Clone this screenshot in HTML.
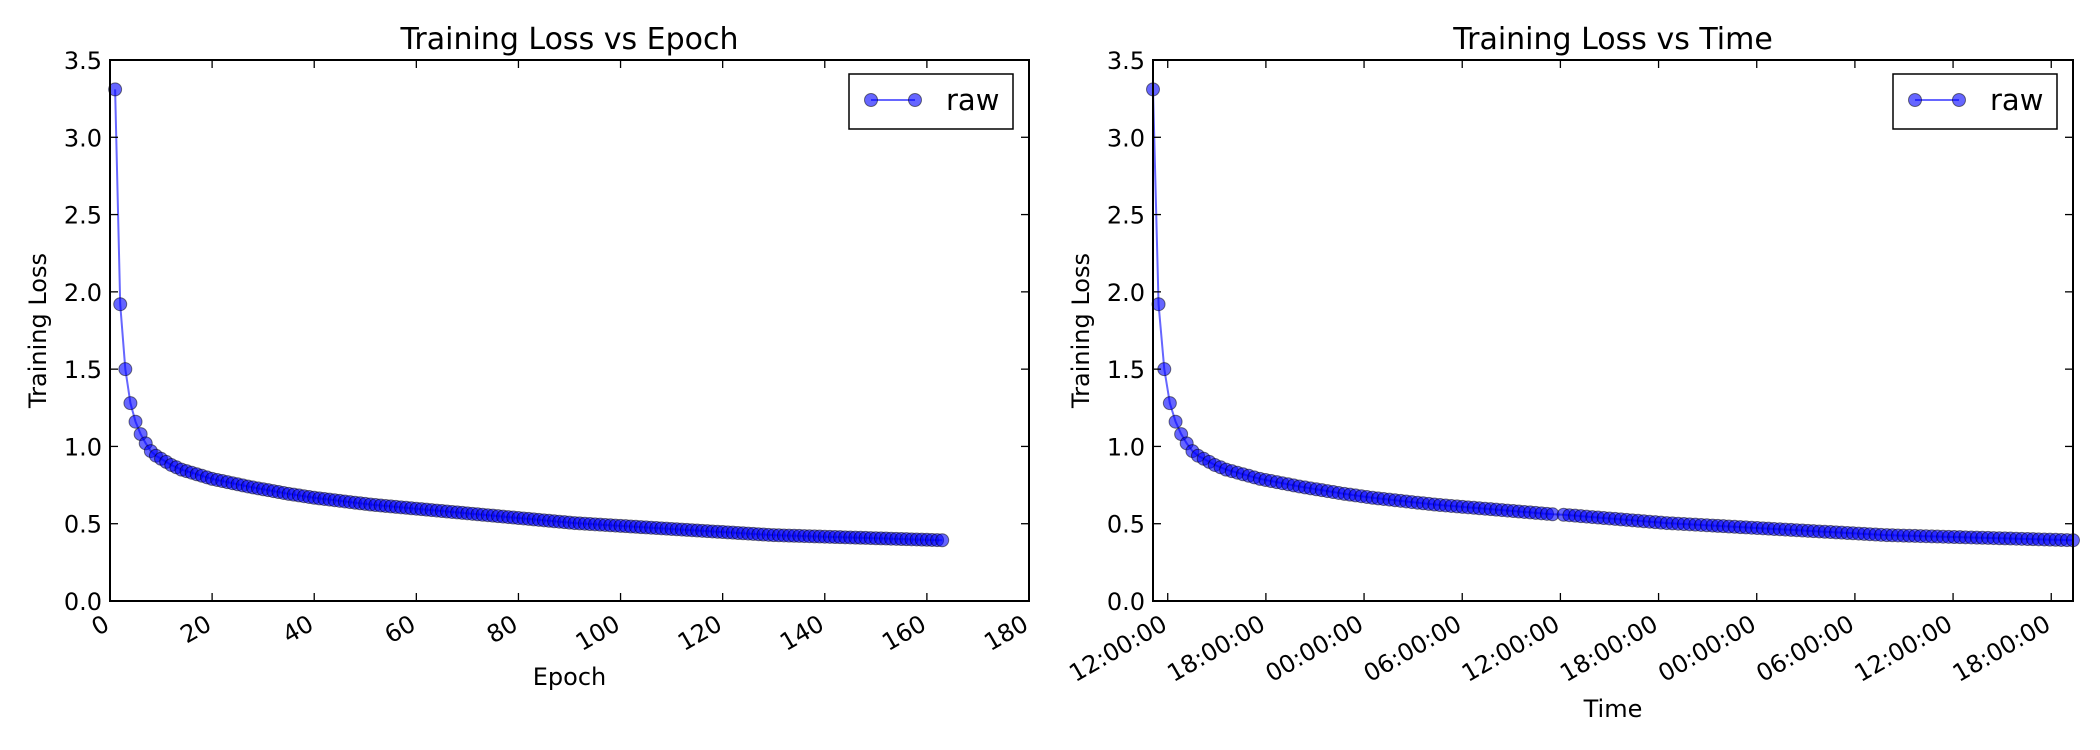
<!DOCTYPE html>
<html><head><meta charset="utf-8"><style>
html,body{margin:0;padding:0;background:#fff;}
svg{display:block;font-family:"DejaVu Sans","Liberation Sans",sans-serif;}
</style></head><body>
<svg id="chart" width="2100" height="750" viewBox="0 0 2100 750" xmlns="http://www.w3.org/2000/svg"></svg>
<script>
const epochs = [];
for (let i = 1; i <= 163; i++) epochs.push(i);
const losses = [3.31,1.92,1.50,1.28,1.16,1.08,1.02,0.97,0.94,0.92,
0.90,0.88,0.865,0.85,0.84,0.83,0.82,0.81,0.80,0.79,
0.783,0.776,0.769,0.762,0.755,0.748,0.741,0.735,0.729,0.723,
0.717,0.711,0.705,0.699,0.693,0.688,0.683,0.678,0.673,0.668,
0.664,0.660,0.656,0.652,0.648,0.644,0.640,0.636,0.632,0.628,
0.624,0.621,0.618,0.615,0.612,0.609,0.606,0.603,0.600,0.597,
0.594,0.591,0.588,0.585,0.582,0.579,0.576,0.573,0.570,0.567,
0.564,0.561,0.558,0.555,0.552,0.549,0.546,0.543,0.540,0.537,
0.534,0.531,0.528,0.525,0.522,0.519,0.516,0.513,0.510,0.507,
0.504,0.502,0.500,0.498,0.496,0.494,0.492,0.490,0.488,0.486,
0.484,0.482,0.480,0.478,0.476,0.474,0.472,0.470,0.468,0.466,
0.464,0.462,0.460,0.458,0.456,0.454,0.452,0.450,0.448,0.446,
0.444,0.442,0.440,0.438,0.436,0.434,0.432,0.430,0.428,0.426,
0.425,0.424,0.423,0.422,0.421,0.420,0.419,0.418,0.417,0.416,
0.415,0.414,0.413,0.412,0.411,0.410,0.409,0.408,0.407,0.406,
0.405,0.404,0.403,0.402,0.401,0.400,0.399,0.398,0.397,0.396,
0.395,0.394,0.393];
// hours relative to 12:00:00 of first day
const times = [-0.9,-0.56,-0.21,0.13,0.48,0.82,1.16,1.51,1.85,2.2,
2.54,2.88,3.23,3.57,3.92,4.26,4.6,4.95,5.29,5.64,
5.98,6.32,6.67,7.01,7.36,7.7,8.04,8.39,8.73,9.08,
9.42,9.76,10.11,10.45,10.8,11.14,11.48,11.83,12.17,12.52,
12.86,13.2,13.55,13.89,14.24,14.58,14.92,15.27,15.61,15.96,
16.3,16.64,16.99,17.33,17.68,18.02,18.36,18.71,19.05,19.4,
19.74,20.08,20.43,20.77,21.12,21.46,21.8,22.15,22.49,22.84,
23.18,23.52,24.2,24.55,24.9,25.25,25.6,25.95,26.3,26.65,
27.0,27.35,27.7,28.05,28.4,28.75,29.1,29.45,29.8,30.15,
30.5,30.85,31.2,31.55,31.9,32.25,32.6,32.95,33.3,33.62,
33.96,34.3,34.65,35.0,35.34,35.69,36.03,36.38,36.72,37.06,
37.41,37.75,38.1,38.44,38.79,39.13,39.47,39.82,40.16,40.51,
40.85,41.19,41.54,41.88,42.23,42.57,42.91,43.26,43.6,43.95,
44.29,44.63,44.98,45.32,45.67,46.01,46.35,46.7,47.04,47.39,
47.73,48.07,48.42,48.76,49.11,49.45,49.79,50.14,50.48,50.83,
51.17,51.51,51.86,52.2,52.55,52.89,53.23,53.58,53.92,54.27,
54.61,54.96,55.33];
const yTicks = [0,0.5,1.0,1.5,2.0,2.5,3.0,3.5];
const yTickLabels = ["0.0","0.5","1.0","1.5","2.0","2.5","3.0","3.5"];
const epochTicks = [0,20,40,60,80,100,120,140,160,180];
const epochTickLabels = ["0","20","40","60","80","100","120","140","160","180"];
const timeTicks = [0,6,12,18,24,30,36,42,48,54];
const timeTickLabels = ["12:00:00","18:00:00","00:00:00","06:00:00","12:00:00","18:00:00","00:00:00","06:00:00","12:00:00","18:00:00"];

const NS = "http://www.w3.org/2000/svg";
const svg = document.getElementById('chart');
function mk(tag, attrs, parent){
  const e = document.createElementNS(NS, tag);
  for (const k in attrs) e.setAttribute(k, attrs[k]);
  (parent||svg).appendChild(e);
  return e;
}
const TOP = 60, BOT = 601;

function panel(cfg){
  const g = mk('g', {});
  
  
  const L = cfg.left, R = cfg.right;
  const xs = v => L + (v - cfg.xmin) / (cfg.xmax - cfg.xmin) * (R - L);
  const ys = v => BOT - v / 3.5 * (BOT - TOP);
  let d = '';
  cfg.xs.forEach((x, i) => { d += (i ? 'L' : 'M') + xs(x).toFixed(2) + ' ' + ys(losses[i]).toFixed(2); });
  const line = mk('path', {d: d, fill: 'none', stroke: '#0000ff', 'stroke-opacity': 0.6, 'stroke-width': 2}, g);
  
  
  cfg.xs.forEach((x, i) => {
    const c = mk('circle', {cx: xs(x), cy: ys(losses[i]), r: 6.5, fill: '#0000ff', 'fill-opacity': 0.6, stroke: '#000', 'stroke-opacity': 0.5, 'stroke-width': 1}, g);
    
    
  });
  const fr = mk('rect', {x: L, y: TOP, width: R - L, height: BOT - TOP, fill: 'none', stroke: '#000', 'stroke-width': 2}, g);
  
  
  yTicks.forEach((v, i) => {
    const y = ys(v);
    mk('line', {x1: L, x2: L + 8, y1: y, y2: y, stroke: '#000', 'stroke-width': 1.3}, g);
    mk('line', {x1: R, x2: R - 8, y1: y, y2: y, stroke: '#000', 'stroke-width': 1.3}, g);
    const t = mk('text', {x: L - 8, y: y + 9, 'text-anchor': 'end', 'font-size': 24}, g);
    
    
    t.textContent = yTickLabels[i];
  });
  cfg.ticks.forEach((v, i) => {
    const x = xs(v);
    mk('line', {x1: x, x2: x, y1: BOT, y2: BOT - 8, stroke: '#000', 'stroke-width': 1.3}, g);
    mk('line', {x1: x, x2: x, y1: TOP, y2: TOP + 8, stroke: '#000', 'stroke-width': 1.3}, g);
    const t = mk('text', {x: 0, y: 0, dy: '0.75em', 'text-anchor': 'end', 'font-size': 24,
      transform: 'translate(' + (x - 8) + ',' + (BOT + 12) + ') rotate(-30)'}, g);
    
    
    t.textContent = cfg.tickLabels[i];
  });
  const cx = (L + R) / 2;
  const title = mk('text', {x: cx, y: 49, 'text-anchor': 'middle', 'font-size': 30}, g);
  
  
  title.textContent = cfg.title;
  const xl = mk('text', {x: cx, y: cfg.xlabelY, 'text-anchor': 'middle', 'font-size': 24}, g);
  
  
  xl.textContent = cfg.xlabel;
  const yl = mk('text', {x: 0, y: 0, 'text-anchor': 'middle', 'font-size': 24,
    transform: 'translate(' + cfg.ylabelX + ',' + ((TOP + BOT) / 2) + ') rotate(-90)'}, g);
  
  
  yl.textContent = 'Training Loss';
  const lg = mk('g', {}, g);
  
  
  const lx = R - 180, ly = 74;
  mk('rect', {x: lx, y: ly, width: 164, height: 55, fill: '#fff', stroke: '#000', 'stroke-width': 1.5}, lg);
  mk('line', {x1: lx + 22, x2: lx + 66, y1: ly + 26, y2: ly + 26, stroke: '#0000ff', 'stroke-opacity': 0.6, 'stroke-width': 2}, lg);
  [lx + 22, lx + 66].forEach(px => mk('circle', {cx: px, cy: ly + 26, r: 6.5, fill: '#0000ff', 'fill-opacity': 0.6, stroke: '#000', 'stroke-opacity': 0.5}, lg));
  const lt = mk('text', {x: lx + 97, y: ly + 36, 'font-size': 29}, lg);
  
  
  lt.textContent = 'raw';
}

panel({name: 'loss-vs-epoch-panel', left: 110, right: 1029, xmin: 0, xmax: 180, xs: epochs,
  ticks: epochTicks, tickLabels: epochTickLabels, title: 'Training Loss vs Epoch', xlabel: 'Epoch', xlabelY: 685, ylabelX: 46});
panel({name: 'loss-vs-time-panel', left: 1153, right: 2073, xmin: times[0], xmax: times[times.length - 1], xs: times,
  ticks: timeTicks, tickLabels: timeTickLabels, title: 'Training Loss vs Time', xlabel: 'Time', xlabelY: 717, ylabelX: 1089});
</script>
</body></html>
